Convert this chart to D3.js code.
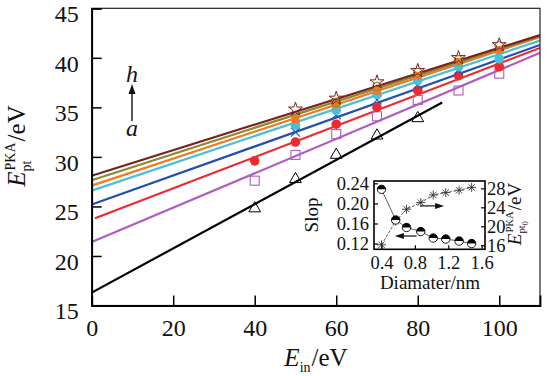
<!DOCTYPE html>
<html>
<head>
<meta charset="UTF-8">
<script src="https://cdn.jsdelivr.net/npm/d3@7/dist/d3.min.js"></script>
<style>
  body { margin: 0; background: #fff; }
  svg text { font-family: "Liberation Serif", "Times New Roman", Times, serif !important; }
</style>
</head>
<body>
<svg width="547" height="376"></svg>
<script>
// main plot: incident energy vs PKA energy
const xIn = [40, 50, 60, 70, 80, 90, 100];
const ptA = [24.8, 27.75, 30.2, 32.15, 33.9, null, null];
const ptB = [27.6, 30.2, 32.3, 34.1, 35.75, 36.7, 38.4];
const ptC = [29.6, 31.5, 33.3, 35.0, 36.7, 38.2, 39.1];
const ptD = [null, 32.5, 34.25, 35.75, 37.3, 38.7, null];
const ptE = [null, 33.2, 34.7, 36.3, 37.7, 39.1, 39.9];
const ptF = [null, 33.8, 35.3, 36.7, 38.2, 39.6, 40.8];
const ptG = [null, null, 35.5, 37.1, 38.5, 39.8, 41.2];
const ptH = [null, 34.8, 35.9, 37.55, 38.7, 40.0, 41.3];
// fitted lines, start / end
const lineX0 = [0, 0, 0.8, 0, 0, 0, 0, 0];
const lineX1 = [86, 110, 110, 110, 110, 110, 110, 110];
const lineY0 = [16.3, 21.4, 23.8, 25.2, 26.6, 27.1, 27.65, 28.1];
const lineY1 = [35.5, 40.5, 41.0, 41.3, 41.75, 42.1, 42.2, 42.3];
const xTicks = [0, 20, 40, 60, 80, 100];
const yTicks = [15, 20, 25, 30, 35, 40, 45];

// inset: slope and intercept vs diameter
const diam = [0.40, 0.57, 0.70, 0.87, 1.02, 1.17, 1.33, 1.48];
const slope = [0.228, 0.167, 0.152, 0.144, 0.131, 0.129, 0.125, 0.120];
const epk0 = [16.1, 21.1, 23.6, 25.0, 26.6, 27.1, 27.6, 28.2];
const inXTicks = [0.4, 0.8, 1.2, 1.6];
const inLTicks = [0.12, 0.16, 0.20, 0.24];
const inRTicks = [16, 20, 24, 28];

const colors = ["#000000", "#b05cc0", "#ee2a30", "#2150b0", "#48c0d8", "#f07a22", "#8a8a30", "#7a2020"];
const pts = [ptA, ptB, ptC, ptD, ptE, ptF, ptG, ptH];
const markers = ["tri", "sq", "dot", "x", "dot", "fsq", "circ", "star"];

const svg = d3.select("svg");
const L = 91.7, R = 540, T = 8.3, B = 305.5;
const x = d3.scaleLinear().domain([0, 110]).range([L, R]);
const y = d3.scaleLinear().domain([15, 45]).range([B, T]);

svg.append("clipPath").attr("id", "clip")
  .append("rect").attr("x", L).attr("y", T).attr("width", R - L).attr("height", B - T);

// lines
const plot = svg.append("g").attr("clip-path", "url(#clip)");
colors.forEach((c, i) => {
  plot.append("line")
    .attr("x1", x(lineX0[i])).attr("y1", y(lineY0[i]))
    .attr("x2", x(lineX1[i])).attr("y2", y(lineY1[i]))
    .attr("stroke", c).attr("stroke-width", 2.2);
});

// markers
const sym = d3.symbol();
pts.forEach((arr, i) => {
  const c = colors[i], m = markers[i];
  arr.forEach((v, j) => {
    if (v == null) return;
    const px = x(xIn[j]), py = y(v);
    const g = plot.append("g").attr("transform", `translate(${px},${py})`);
    if (m === "tri") {
      g.append("path").attr("d", sym.type(d3.symbolTriangle).size(60)())
        .attr("fill", "none").attr("stroke", c).attr("stroke-width", 1);
    } else if (m === "sq") {
      g.append("rect").attr("x", -4.5).attr("y", -4.5).attr("width", 9).attr("height", 9)
        .attr("fill", "none").attr("stroke", c).attr("stroke-width", 1.1);
    } else if (m === "fsq") {
      g.append("rect").attr("x", -4).attr("y", -4).attr("width", 8).attr("height", 8).attr("fill", c);
    } else if (m === "dot") {
      g.append("circle").attr("r", 4.8).attr("fill", c);
    } else if (m === "circ") {
      g.append("circle").attr("r", 4.2).attr("fill", "none").attr("stroke", c).attr("stroke-width", 1.1);
    } else if (m === "x") {
      g.append("path").attr("d", "M-4.5,-4.5L4.5,4.5M-4.5,4.5L4.5,-4.5")
        .attr("stroke", c).attr("stroke-width", 1.1);
    } else if (m === "star") {
      g.append("path").attr("d", sym.type(d3.symbolStar).size(60)())
        .attr("fill", "none").attr("stroke", c).attr("stroke-width", 1);
    }
  });
});

// frame + axes
svg.append("rect").attr("x", L).attr("y", T).attr("width", R - L).attr("height", B - T)
  .attr("fill", "none").attr("stroke", "#222").attr("stroke-width", 1.2);

const xAxis = svg.append("g").attr("transform", `translate(0,${B})`)
  .call(d3.axisBottom(x).tickValues(xTicks).tickSize(-10).tickPadding(12));
const yAxis = svg.append("g").attr("transform", `translate(${L},0)`)
  .call(d3.axisLeft(y).tickValues(yTicks).tickSize(-10).tickPadding(13));
[xAxis, yAxis].forEach(a => {
  a.select(".domain").attr("stroke", "#000").attr("stroke-width", 1.8);
  a.selectAll(".tick line").attr("stroke", "#000").attr("stroke-width", 1.5);
  a.selectAll("text").attr("font-size", 24).attr("fill", "#111");
});
xAxis.selectAll("text").attr("dy", "0.75em");
yAxis.selectAll("text").attr("dy", "0.55em");

// label helper: E with sub/sup then tail
function eLabel(parent, size, sub, sup, subsub, tail) {
  const g = parent.append("g");
  const t = (s, px, py, fs, it) => g.append("text").attr("x", px).attr("y", py)
    .attr("font-size", fs).attr("font-style", it ? "italic" : "normal").attr("fill", "#111").text(s);
  const e = t("E", 0, 0, size, true);
  const w = e.node().getComputedTextLength();
  let supW = 0, subW = 0;
  if (sup) supW = t(sup, w + 1, -size * 0.42, size * 0.56).node().getComputedTextLength();
  if (sub) subW = t(sub, w, size * 0.22, size * 0.56).node().getComputedTextLength();
  if (subsub) subW += t(subsub, w + subW, size * 0.38, size * 0.42).node().getComputedTextLength();
  const tx = w + Math.max(supW + 1, subW) + 1;
  const tw = t(tail, tx, 0, size).node().getComputedTextLength();
  g.attr("transform", `translate(${-(tx + tw) / 2},0)`);
  return g;
}

eLabel(svg.append("g").attr("transform", `translate(25,146) rotate(-90)`), 25, "pt", "PKA", null, "/eV");
eLabel(svg.append("g").attr("transform", `translate(316,366)`), 25, "in", null, null, "/eV");

// h -> a annotation
const ann = svg.append("g").attr("font-style", "italic").attr("font-size", 24).attr("fill", "#111");
ann.append("text").attr("x", 132).attr("y", 82).attr("text-anchor", "middle").text("h");
ann.append("text").attr("x", 132).attr("y", 136).attr("text-anchor", "middle").text("a");
svg.append("line").attr("x1", 132).attr("y1", 121).attr("x2", 132).attr("y2", 92)
  .attr("stroke", "#111").attr("stroke-width", 1.4);
svg.append("path").attr("d", "M132,84L128.5,94L135.5,94Z").attr("fill", "#111");

// ---------- inset ----------
const iL = 374, iT = 181, iW = 111, iH = 68.3;
const ins = svg.append("g").attr("transform", `translate(${iL},${iT})`);
const ix = d3.scaleLinear().domain([0.31, 1.64]).range([0, iW]);
const iyL = d3.scaleLinear().domain([0.1086, 0.2446]).range([iH, 0]);
const iyR = d3.scaleLinear().domain([15.15, 29.55]).range([iH, 0]);

ins.append("rect").attr("width", iW).attr("height", iH).attr("fill", "#fff")
  .attr("stroke", "#000").attr("stroke-width", 1.6);

const line = d3.line();
ins.append("path").attr("d", line(diam.map((d, i) => [ix(d), iyR(epk0[i])])))
  .attr("fill", "none").attr("stroke", "#333").attr("stroke-width", 0.8).attr("stroke-dasharray", "3,1.5");
ins.append("path").attr("d", line(diam.map((d, i) => [ix(d), iyL(slope[i])])))
  .attr("fill", "none").attr("stroke", "#333").attr("stroke-width", 0.8);

// asterisks
diam.forEach((d, i) => {
  const cx = ix(d), cy = iyR(epk0[i]), r = 4.5, q = r * 0.707;
  ins.append("path")
    .attr("d", `M${cx - r},${cy}L${cx + r},${cy}M${cx},${cy - r}L${cx},${cy + r}` +
      `M${cx - q},${cy - q}L${cx + q},${cy + q}M${cx - q},${cy + q}L${cx + q},${cy - q}`)
    .attr("stroke", "#333").attr("stroke-width", 0.9);
});
// half-filled circles
diam.forEach((d, i) => {
  const cx = ix(d), cy = iyL(slope[i]), r = 4.2;
  ins.append("circle").attr("cx", cx).attr("cy", cy).attr("r", r)
    .attr("fill", "#fff").attr("stroke", "#000").attr("stroke-width", 0.9);
  ins.append("path").attr("d", `M${cx - r},${cy}A${r},${r} 0 0 1 ${cx + r},${cy}Z`).attr("fill", "#000");
});

// inset arrows
const arrow = (x1, x2, yy) => {
  const dir = Math.sign(x2 - x1);
  ins.append("line").attr("x1", x1).attr("y1", yy).attr("x2", x2 - dir * 6).attr("y2", yy)
    .attr("stroke", "#111").attr("stroke-width", 1.2);
  ins.append("path").attr("d", `M${x2},${yy}L${x2 - dir * 9},${yy - 3}L${x2 - dir * 9},${yy + 3}Z`).attr("fill", "#111");
};
arrow(ix(0.87), ix(1.15), iyR(24.3));
arrow(ix(0.82), ix(0.56), iyL(0.135));

const iax = ins.append("g").attr("transform", `translate(0,${iH})`)
  .call(d3.axisBottom(ix).tickValues(inXTicks).tickSize(-4).tickPadding(6).tickFormat(d3.format(".1f")));
const iayL = ins.append("g")
  .call(d3.axisLeft(iyL).tickValues(inLTicks).tickSize(-4).tickPadding(5).tickFormat(d3.format(".2f")));
const iayR = ins.append("g").attr("transform", `translate(${iW},0)`)
  .call(d3.axisRight(iyR).tickValues(inRTicks).tickSize(-4).tickPadding(2));
[iax, iayL, iayR].forEach(a => {
  a.select(".domain").remove();
  a.selectAll(".tick line").attr("stroke", "#000").attr("stroke-width", 1.2);
  a.selectAll("text").attr("font-size", 18.5).attr("fill", "#111");
});
iax.selectAll("text").attr("dy", "0.72em");

svg.append("text").attr("x", 430).attr("y", 289).attr("text-anchor", "middle")
  .attr("font-size", 19).attr("fill", "#111").text("Diamater/nm");
svg.append("text").attr("transform", "translate(318,215) rotate(-90)").attr("text-anchor", "middle")
  .attr("font-size", 19).attr("fill", "#111").text("Slop");
eLabel(svg.append("g").attr("transform", `translate(521,214) rotate(-90)`), 19, "pt", "PKA", "0", "/eV");
</script>
</body>
</html>
